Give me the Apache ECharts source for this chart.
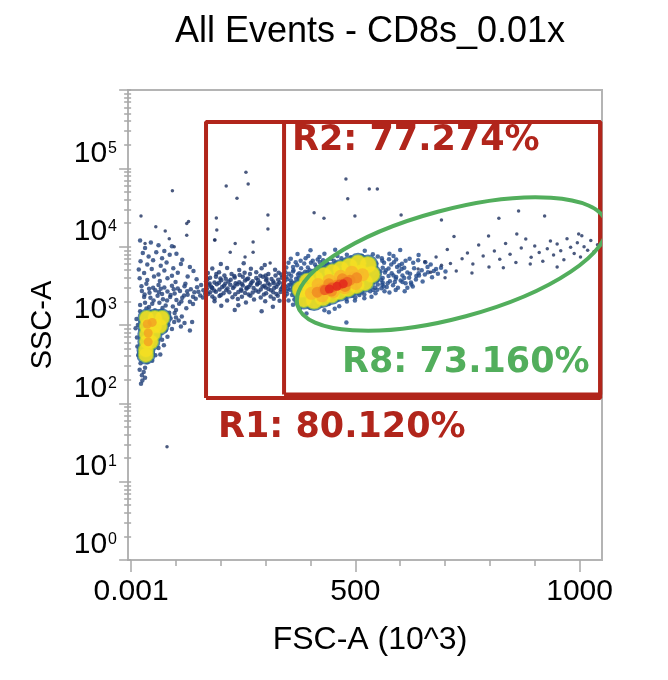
<!DOCTYPE html>
<html>
<head>
<meta charset="utf-8">
<title>All Events - CD8s_0.01x</title>
<script src="https://cdn.jsdelivr.net/npm/echarts@6/dist/echarts.min.js"></script>
<style>
html, body { margin: 0; padding: 0; background: #fff; }
#chart1 { width: 668px; height: 680px; }
</style>
</head>
<body>
<div id="chart1"></div>
<script>
// FSC-A in 10^3 units, SSC-A in raw units (shown on a log10 scale)
var xMajorTicks = [0, 500, 1000];
var xMinorTicks = [100, 200, 300, 400, 600, 700, 800, 900];
var yDecades = [0, 1, 2, 3, 4, 5, 6];
var yLabelDecades = [0, 1, 2, 3, 4, 5];
var yMinorMults = [2, 3, 4, 5, 6, 7, 8, 9];

// sparse events (outliers)
var outliers = [[212,59600],[256,89000],[261,63000],[236,41600],[305,25400],[305,16800],[190,23200],[186,12200],
  [272,11500],[479,73000],[483,41000],[408,27200],[430,23000],[499,24600],[531,54500],[549,54500],[602,25400],
  [692,21900],[797,13700],[820,23000],[864,28500],[922,24600],[998,14500],[92,51700],[22,24600],[55,18000],
  [76,15900],[128,21000],[124,19800],[85,12600],[96,10000],[80,28],[191,16300],[187,12200],[232,11000],
  [272,8500],[254,7400],[310,6200],[221,8500],[124,14000],[31,11000]];

// debris population on the left
var leftHalo = [[20,12000],[31,9600],[44,11300],[61,10400],[74,8800],[91,10100],
  [26,8300],[39,7500],[56,8500],[69,7100],[86,7900],[101,8100],[114,6800],
  [21,6500],[36,5900],[49,6700],[66,5700],[79,6300],[94,5300],[111,6000],[131,5500],
  [17,5100],[29,4600],[46,5200],[61,4400],[74,4950],[91,4250],[104,4650],[126,4150],[139,4900],
  [19,3950],[36,3750],[51,4150],[64,3650],[81,3950],[99,3550],[121,3350],[146,3850],[156,3250],
  [23,3120],[34,3350],[49,2980],[61,3230],[74,3020],[91,3180],[104,2920],[119,3120],[133,2870],[147,3030],[161,2780],
  [24,2720],[41,2580],[54,2780],[69,2480],[81,2680],[97,2530],[109,2720],[126,2430],[141,2620],[154,2380],
  [29,2280],[43,2220],[59,2370],[71,2130],[87,2270],[101,2080],[114,2230],[131,1980],[144,2170],
  [31,1930],[47,1870],[63,1920],[77,1780],[93,1720],[107,1870],[123,1640],
  [34,1620],[53,1530],[67,1520],[85,1430],[97,1420],[113,1280],
  [88,1210],[96,1090],[83,1010],[91,890],[77,860],[81,710],[69,650],[73,550],[61,510],[65,420],[54,410],[47,350],
  [12,1190],[10,910],[13,690],[14,530],[16,410],
  [25,385],[36,335],[21,325],[31,285],[19,268],[28,252],[24,228],[31,212],[25,196],[22,178],
  [106,1140],[119,1060],[136,1090],[111,960],[131,850],
  [40,2900],[66,2900],[95,2850],[125,2700],[150,2650],[165,2500],[30,2450],[62,2620],[88,2420],[118,2380],
  [138,2300],[160,2250],[50,2050],[80,2050],[112,2000],[138,1850],[20,1800],[40,1700],[70,1650],[100,1550],
  [85,1300],[100,1250],[77,1150],[20,1500],[25,1350],[15,1000]];
var leftYellow = [[35,1230],[53,1230],[69,1230],[35,970],[53,970],[64,970],[35,770],[49,770],
  [35,610],[44,610],[33,480],[33,415]];
var leftOrange = [[36,1030],[38,790],[38,610],[47,1080]];

// R1 band between the two populations
var band = [[200,6000],[251,6150],[298,5850],
  [181,5250],[214,5350],[241,5050],[267,5230],[291,5320],[321,5080],
  [171,4620],[196,4720],[224,4480],[253,4630],[279,4730],[306,4470],[329,4640],
  [176,4020],[189,4140],[211,3880],[231,4030],[249,4120],[261,3920],[279,3990],[294,4130],[313,3870],[336,4010],
  [167,3620],[186,3480],[201,3720],[217,3580],[241,3520],[254,3690],[271,3610],[287,3470],[301,3730],[317,3590],[331,3500],
  [173,3260],[191,3310],[207,3180],[221,3270],[237,3320],[249,3190],[266,3260],[281,3290],[297,3180],[309,3270],[327,3310],[339,3190],
  [169,2910],[181,2960],[197,2840],[215,2920],[227,2960],[245,2830],[257,2910],[273,2970],[289,2840],[306,2890],[319,2960],[334,2860],
  [176,2610],[189,2660],[206,2540],[219,2620],[239,2640],[254,2560],[271,2590],[284,2660],[301,2540],[317,2610],[333,2640],
  [181,2310],[197,2340],[226,2260],[247,2290],[266,2360],[289,2240],[311,2310],[327,2360],
  [186,2010],[214,2060],[256,1940],[299,2010],[331,2040],
  [201,1760],[239,1790],[316,1710],[231,1550],[291,1500],
  [178,3100],[203,3050],[230,3100],[262,3050],[293,3100],[324,3080],[185,2750],[212,2780],[246,2740],
  [278,2760],[312,2780],[196,3450],[233,3420],[268,3450],[305,3400],[340,3400],[208,4300],[242,4350],
  [288,4250],[322,4300],
  [170,3850],[199,3920],[222,3780],[258,3840],[283,3760],[302,3880],[328,3790],
  [175,3380],[210,3390],[247,3360],[282,3380],[318,3420],
  [172,2480],[200,2420],[232,2470],[262,2450],[296,2460],[324,2490],
  [186,2180],[238,2150],[274,2120],[318,2170],
  [190,4480],[230,4220],[265,4480],[300,4280],[335,4420],
  [180,3000],[258,3000],[300,3020],[337,3010]];

// main lymphocyte population
var mainHalo = [[400,9000],[455,9150],[521,8850],[600,9050],
  [371,8050],[431,8150],[481,7880],[539,8020],[576,8120],[641,7850],
  [356,7020],[389,7120],[416,6880],[446,7030],[469,7110],[501,6870],[531,7020],[559,7130],[591,6880],[621,7010],
  [351,6210],[367,6330],[386,6080],[401,6220],[421,6310],[437,6090],[457,6230],[473,6320],[493,6080],[509,6220],
  [529,6300],[547,6090],[564,6210],[586,6320],[604,6070],[629,6220],[656,6310],
  [346,5420],[361,5520],[379,5290],[394,5410],[413,5510],[427,5310],[446,5420],[459,5530],
  [561,5400],[574,5280],[593,5510],[609,5390],[631,5290],[661,5520],[691,5380],
  [344,4720],[361,4810],[375,4590],[393,4720],[404,4820],[419,4590],[431,4720],
  [556,4820],[566,4680],[581,4590],[597,4820],[616,4690],[641,4580],[701,4820],
  [346,4110],[357,4220],[373,3990],[381,4120],[396,4210],
  [546,4120],[561,3980],[574,4210],[591,4100],[609,3990],[636,4220],[671,4080],
  [342,3610],[356,3720],[365,3490],[377,3620],[537,3620],[549,3710],[561,3480],[577,3620],[601,3710],[624,3480],
  [344,3110],[351,3220],[361,2990],[371,3120],[511,3110],[529,3220],[544,2990],[563,3110],[584,3220],[616,2980],
  [346,2710],[354,2820],[366,2590],[486,2710],[499,2820],[514,2590],[533,2700],[549,2810],[576,2590],
  [344,2360],[359,2410],[447,2290],[459,2410],[474,2290],[493,2360],[509,2410],[536,2290],
  [351,2060],[364,2110],[379,1990],[394,2060],[413,2110],[427,1990],[446,2060],[461,2110],[481,1990],[499,2060],
  [361,1810],[379,1860],[401,1740],[419,1810],[441,1860],[464,1740],
  [376,1610],[399,1660],[431,1540],[454,1610],[391,1400],[441,1450],[480,1080],
  [552,4400],[568,5000],[585,4300],[603,5200],[622,4500],[648,5000],[560,3300],[590,3900],[612,3400],
  [635,3800],[655,4400],[675,4900],[540,2800],[558,2950],[595,3000],[625,3300],[520,2450],[545,2550],
  [565,2700],[590,2800],[480,2150],[500,2250],[520,2200],[350,2900],[358,3450],[348,3850],[352,4500],
  [362,5000],[370,5800],[378,6600],[395,7600],[420,7400],[460,7600],[490,7300],[515,7600],[550,7500],
  [585,7600],[612,6600],[640,6700],[668,5900],[680,5200],[650,3600],[610,2700],
  [348,2500],[362,2750],[355,3300],[368,3900],[382,4500],[398,5000],[410,5900],[430,5900],[388,4800],
  [372,4400],[362,3300],
  [405,6600],[428,6700],[452,6600],[478,6700],[505,6500],[525,6700],[540,6500],[560,6600],[580,5900],
  [598,5800],[440,5900],[465,5800],[485,6300],[515,6900],[575,6900],
  [548,4300],[558,3750],[572,3400],[588,3550],[605,4300],[620,4000],[642,4300],[662,4700],[684,4500],
  [605,3550],[628,3100],[570,3050],[550,3300],
  [433,2150],[452,2220],[470,2420],[488,2500],[505,2600],[415,1950],[385,2350],[395,1850]];
var mainYellow = [[378,2830],[385,2150],[393,3560],[400,2700],[408,2050],[411,3890],[419,2950],[427,2240],
  [430,4260],[438,3230],[446,2450],[449,4670],[457,3540],[464,2690],[468,5110],[476,3880],[483,2940],
  [487,5590],[495,4240],[502,3220],[506,6120],[513,4640],[521,3520],[528,5840],[536,4430]];
var mainLightOrange = [[402,2540],[421,2790],[440,3050],[459,3340],[478,3650],[497,4000],[516,4380],
  [417,3290],[426,2360],[442,3710],[451,2660],[467,4180],[476,3000],[492,4720],[501,3390]];
var mainOrange = [[415,2620],[430,2820],[444,3020],[459,3240],[474,3480],[488,3730],[503,4000],
  [441,3370],[447,2710],[471,3880],[477,3110]];
var mainRedOrange = [[432,2790],[448,3020],[465,3280],[482,3550]];
var mainRed = [[442,2880],[459,3120],[473,3350]];

// sparse high-FSC tail
var tail = [[640,5200],[655,6400],[668,4700],[680,7400],[692,5800],[705,9200],[712,6100],[725,4900],[738,7000],
  [750,8300],[762,6000],[775,10500],[785,7600],[798,5500],[810,8800],[822,6900],[835,11000],[845,8000],[858,6300],
  [870,9600],[880,12500],[892,7300],[900,10200],[910,8400],[918,6500],[928,9400],[935,11800],[942,7800],[950,10800],
  [958,8900],[965,6800],[972,12600],[980,9800],[988,8200],[995,11200],[1002,7400],[1010,10000],[1018,9000],
  [1025,12000],[1032,8600],[1040,10600],[720,13500],[860,14500],[1005,13800],[700,4000],[760,4600],[830,5400],
  [890,6000],[950,5500]];

// gates
var r1Gate = [[167,117],[1046,117],[1046,390000],[167,390000],[167,117]];
var r2Gate = [[341,130],[1046,130],[1046,390000],[341,390000],[341,130]];
var r8Center = [715, 6000];
var r8MajorEnd = [1059, 20300];
var r8MinorEnd = [684, 27900];

var gateRed = '#b1251b';
var gateGreen = '#52ae5c';
var sansFont = "'Liberation Sans', Arial, sans-serif";
var boldFont = "'DejaVu Sans', Verdana, sans-serif";

function toPlot(arr) {
  return arr.map(function (p) { return [p[0], Math.log10(p[1])]; });
}

var yMinorTicks = [];
yLabelDecades.forEach(function (d) {
  yMinorMults.forEach(function (m) { yMinorTicks.push(d + Math.log10(m)); });
});

function dots(name, arr, color, size) {
  return {
    name: name, type: 'scatter', data: toPlot(arr),
    symbol: 'circle', symbolSize: size,
    itemStyle: { color: color }, silent: true
  };
}

var dom = document.getElementById('chart1');
var myChart = echarts.init(dom, null, { renderer: 'canvas' });

var option = {
  animation: false,
  backgroundColor: '#fff',
  grid: {
    left: 128, right: 66, top: 90, bottom: 120,
    show: true, borderColor: '#b4b4b4', borderWidth: 2
  },
  graphic: [
    { type: 'text', x: 370, y: 32, style: { text: 'All Events - CD8s_0.01x', font: '36px ' + sansFont, fill: '#000', textAlign: 'center', textVerticalAlign: 'middle' } },
    { type: 'text', x: 292, y: 141, z: 100, style: { text: 'R2: 77.274%', font: 'bold 35px ' + boldFont, fill: gateRed, textAlign: 'left', textVerticalAlign: 'middle' } },
    { type: 'text', x: 218, y: 428, z: 100, style: { text: 'R1: 80.120%', font: 'bold 35px ' + boldFont, fill: gateRed, textAlign: 'left', textVerticalAlign: 'middle' } },
    { type: 'text', x: 342, y: 363, z: 100, style: { text: 'R8: 73.160%', font: 'bold 35px ' + boldFont, fill: gateGreen, textAlign: 'left', textVerticalAlign: 'middle' } }
  ],
  xAxis: [
    {
      type: 'value', min: -7, max: 1050,
      name: 'FSC-A (10^3)', nameLocation: 'middle', nameGap: 64,
      nameTextStyle: { fontSize: 32, color: '#000', fontFamily: sansFont, padding: [0, 0, 0, 10] },
      axisLine: { show: false },
      splitLine: { show: false },
      axisTick: { show: true, customValues: xMajorTicks, length: 12, lineStyle: { color: '#a8a8a8', width: 1.5 } },
      axisLabel: {
        customValues: xMajorTicks, margin: 17, fontSize: 30, color: '#000', fontFamily: sansFont,
        formatter: function (v) { return v === 0 ? '0.001' : String(v); }
      }
    },
    {
      type: 'value', min: -7, max: 1050, position: 'bottom',
      axisLine: { show: false }, splitLine: { show: false }, axisLabel: { show: false },
      axisTick: { show: true, customValues: xMinorTicks, length: 6, lineStyle: { color: '#a8a8a8', width: 1.5 } }
    }
  ],
  yAxis: [
    {
      type: 'value', min: 0, max: 6,
      name: 'SSC-A', nameLocation: 'middle', nameGap: 71,
      nameTextStyle: { fontSize: 29, color: '#000', fontFamily: sansFont },
      axisLine: { show: false },
      splitLine: { show: false },
      axisTick: { show: true, customValues: yDecades, length: 12, lineStyle: { color: '#a8a8a8', width: 1.5 } },
      axisLabel: {
        customValues: yLabelDecades, margin: 11, padding: [0, 0, 30, 0],
        formatter: function (v) { return '{b|10}{s|' + v + '}'; },
        rich: {
          b: { fontSize: 30, color: '#000', fontFamily: sansFont },
          s: { fontSize: 16, color: '#000', fontFamily: sansFont, padding: [0, 0, 10, 1] }
        }
      }
    },
    {
      type: 'value', min: 0, max: 6, position: 'left',
      axisLine: { show: false }, splitLine: { show: false }, axisLabel: { show: false },
      axisTick: { show: true, customValues: yMinorTicks, length: 7, lineStyle: { color: '#a8a8a8', width: 1.5 } }
    }
  ],
  series: [
    dots('outliers', outliers, '#1d2f5e', 3.5),
    dots('leftHalo', leftHalo, '#1f3f78', 4.5),
    dots('band', band, '#1d3870', 4.5),
    dots('mainHalo', mainHalo, '#20488a', 4.5),
    dots('tail', tail, '#1d2f5e', 3.5),
    // density shading: blue and green fringe under the yellow cores
    dots('leftFringe', leftYellow, '#2a609a', 19),
    dots('mainFringe', mainYellow, '#2a609a', 21),
    dots('leftGreen', leftYellow, '#9acd3c', 16),
    dots('mainGreen', mainYellow, '#9acd3c', 18),
    dots('leftYellow', leftYellow, '#f6df22', 14),
    dots('leftOrange', leftOrange, '#f2a023', 9),
    dots('mainYellow', mainYellow, '#f6df22', 16),
    dots('mainLightOrange', mainLightOrange, '#f7b52a', 13),
    dots('mainOrange', mainOrange, '#f08a22', 11),
    dots('mainRedOrange', mainRedOrange, '#ea5a20', 10),
    dots('mainRed', mainRed, '#e2261d', 9),
    {
      name: 'R1', type: 'line', data: toPlot(r1Gate), symbol: 'none', silent: true, z: 10,
      lineStyle: { color: gateRed, width: 4 }
    },
    {
      name: 'R2', type: 'line', data: toPlot(r2Gate), symbol: 'none', silent: true, z: 10,
      lineStyle: { color: gateRed, width: 4 }
    },
    {
      name: 'R8', type: 'custom', z: 11, silent: true, clip: true,
      data: [[r8Center[0], Math.log10(r8Center[1]), r8MajorEnd[0], Math.log10(r8MajorEnd[1]), r8MinorEnd[0], Math.log10(r8MinorEnd[1])]],
      encode: { x: [0, 2, 4], y: [1, 3, 5] },
      renderItem: function (params, api) {
        var c = api.coord([api.value(0), api.value(1)]);
        var m = api.coord([api.value(2), api.value(3)]);
        var n = api.coord([api.value(4), api.value(5)]);
        var rx = Math.sqrt((m[0] - c[0]) * (m[0] - c[0]) + (m[1] - c[1]) * (m[1] - c[1]));
        var ry = Math.sqrt((n[0] - c[0]) * (n[0] - c[0]) + (n[1] - c[1]) * (n[1] - c[1]));
        var ang = Math.atan2(c[1] - m[1], m[0] - c[0]);
        var cs = params.coordSys;
        return {
          type: 'group',
          clipPath: { type: 'rect', shape: { x: cs.x, y: cs.y, width: cs.width, height: cs.height } },
          children: [{
            type: 'ellipse', x: c[0], y: c[1], rotation: ang,
            shape: { cx: 0, cy: 0, rx: rx, ry: ry },
            style: { fill: null, stroke: gateGreen, lineWidth: 4 }
          }]
        };
      }
    }
  ]
};

myChart.setOption(option);
</script>
</body>
</html>
